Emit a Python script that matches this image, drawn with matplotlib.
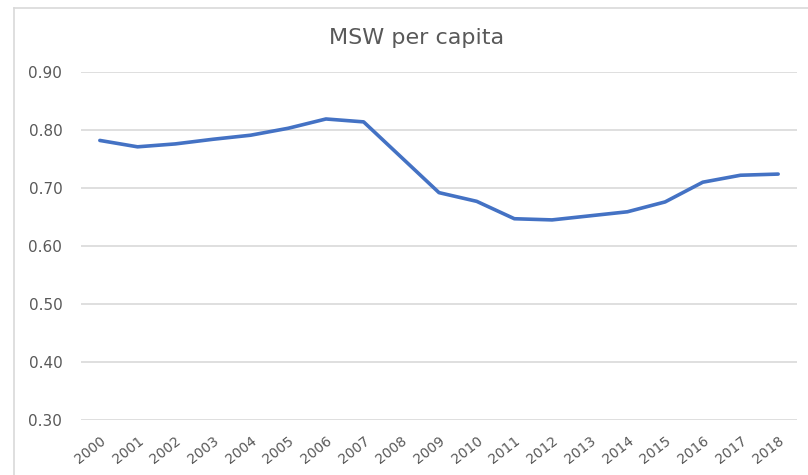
import matplotlib
matplotlib.use("Agg")
import matplotlib.pyplot as plt
from matplotlib.lines import Line2D

years = [str(y) for y in range(2000, 2019)]
msw = [0.782, 0.771, 0.776, 0.784, 0.791, 0.803, 0.819, 0.814, 0.753, 0.692,
       0.677, 0.647, 0.645, 0.652, 0.659, 0.676, 0.710, 0.722, 0.724]
yticks = [0.30, 0.40, 0.50, 0.60, 0.70, 0.80, 0.90]

plt.rcParams['font.family'] = ['DejaVu Sans']

fig = plt.figure(figsize=(8.08, 4.75), dpi=100)
W, H = 808, 475
ax = fig.add_axes([81 / W, 1 - 420 / H, (797 - 81) / W, (420 - 72) / H])

x = list(range(len(years)))
ax.plot(x, msw, color='#4472C4', lw=2.6, solid_capstyle='round', solid_joinstyle='round', zorder=3)
ax.set_xlim(-0.5, len(years) - 0.5)
ax.set_ylim(0.30, 0.90)
ax.set_yticks(yticks)
ax.set_yticklabels([f"{v:.2f}" for v in yticks], fontsize=11, color='#595959')
ax.set_xticks(x)
ax.set_xticklabels(years, rotation=38, ha='right', va='top', rotation_mode='anchor',
                   fontsize=10, color='#595959')
ax.tick_params(axis='both', length=0)
ax.tick_params(axis='y', pad=13.5)
ax.tick_params(axis='x', pad=10)
ax.grid(axis='y', color='#d9d9d9', lw=1.2)
ax.set_axisbelow(True)
for s in ax.spines.values():
    s.set_visible(False)

fig.text(417 / W, 1 - 38 / H, "MSW per capita", ha='center', va='center', fontsize=16, color='#595959')

# outer chart border (left and top visible)
fig.add_artist(Line2D([14 / W, 14 / W], [0, 1 - 8 / H], color='#d9d9d9', lw=1.2, transform=fig.transFigure))
fig.add_artist(Line2D([14 / W, 1], [1 - 8 / H, 1 - 8 / H], color='#d9d9d9', lw=1.2, transform=fig.transFigure))

fig.savefig("out.png", dpi=100)
